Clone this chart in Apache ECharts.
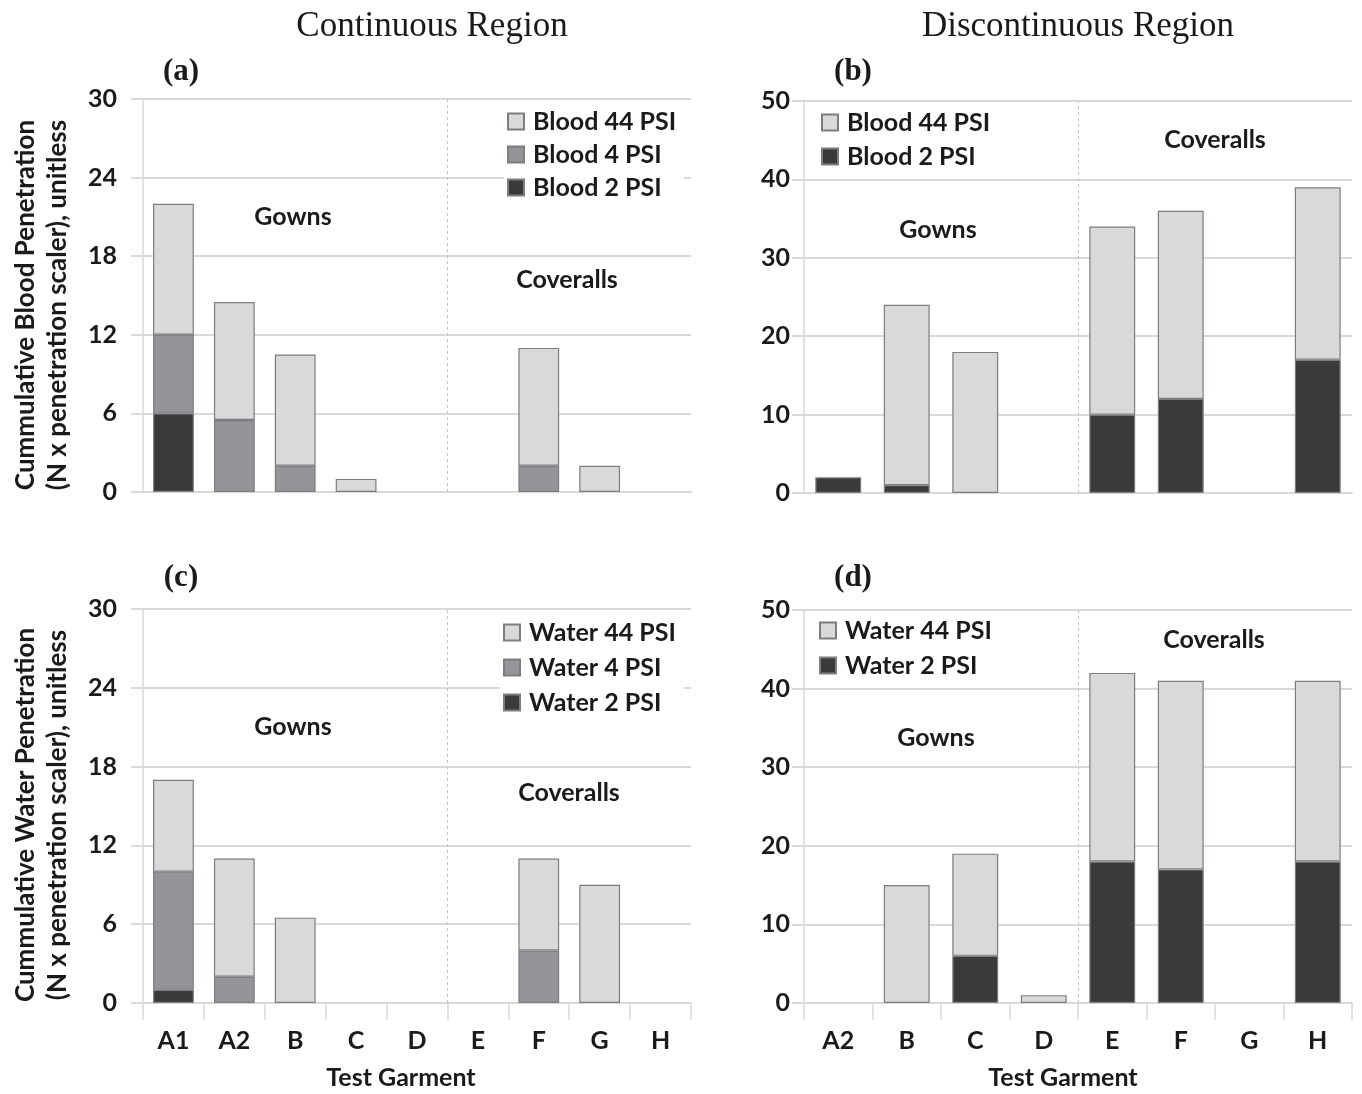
<!DOCTYPE html>
<html>
<head>
<meta charset="utf-8">
<script src="https://cdn.jsdelivr.net/npm/echarts@6/dist/echarts.min.js"></script>
<style>
html,body{margin:0;padding:0;background:#fff;}
#chart{width:1362px;height:1094px;}
</style>
</head>
<body>
<div id="chart"></div>
<script>
// ---------- data ----------
const categoriesContinuous = ['A1','A2','B','C','D','E','F','G','H'];
const categoriesDiscontinuous = ['A2','B','C','D','E','F','G','H'];
const separatorContinuous = 5;     // boundary between gowns (A1..D) and coveralls (E..H)
const separatorDiscontinuous = 4;  // boundary between gowns (A2..D) and coveralls (E..H)

const blood2Continuous  = [6, null, null, null, null, null, null, null, null];
const blood4Continuous  = [6, 5.5, 2, null, null, null, 2, null, null];
const blood44Continuous = [10, 9, 8.5, 1, null, null, 9, 2, null];

const blood2Discontinuous  = [2, 1, null, null, 10, 12, null, 17];
const blood44Discontinuous = [null, 23, 18, null, 24, 24, null, 22];

const water2Continuous  = [1, null, null, null, null, null, null, null, null];
const water4Continuous  = [9, 2, null, null, null, null, 4, null, null];
const water44Continuous = [7, 9, 6.5, null, null, null, 7, 9, null];

const water2Discontinuous  = [null, null, 6, null, 18, 17, null, 18];
const water44Discontinuous = [null, 15, 13, 1, 24, 24, null, 23];

const yMaxContinuous = 30, yIntervalContinuous = 6;
const yMaxDiscontinuous = 50, yIntervalDiscontinuous = 10;

// ---------- styles ----------
const C44 = '#d8d9db', C4 = '#939598', C2 = '#3a3a3c';
const BORDER = '#7d7d7f';
const GRID = '#d9d9d9';
const SANS = 'Lato';
const SERIF = 'Liberation Serif';
const FS = 25;

const grids = [
  {left:143, top:99,  width:548, height:393},
  {left:804, top:101, width:548, height:392},
  {left:143, top:609, width:548, height:394},
  {left:804, top:610, width:548, height:393}
];

function xCat(gi, cats, showLabels){
  return {
    type:'category', gridIndex:gi, data:cats,
    axisLine:{show:true, lineStyle:{color:GRID, width:2}},
    axisTick:{show:showLabels, length:17, lineStyle:{color:GRID, width:1.5}},
    axisLabel:{show:showLabels, color:'#1a1a1a', fontFamily:SANS, fontWeight:'bold', fontSize:FS, margin:25},
    splitLine:{show:false}
  };
}
function xSep(gi, n){
  return {type:'value', gridIndex:gi, min:0, max:n, show:false};
}
function yVal(gi, max, interval, margin){
  return {
    type:'value', gridIndex:gi, min:0, max:max, interval:interval,
    axisLine:{show:true, lineStyle:{color:GRID, width:1.5}},
    axisTick:{show:true, length:12, lineStyle:{color:GRID, width:2}},
    axisLabel:{color:'#1a1a1a', fontFamily:SANS, fontWeight:'bold', fontSize:FS, margin:margin},
    splitLine:{show:true, lineStyle:{color:GRID, width:2}}
  };
}
function bar(name, data, color, gi, stack){
  return {
    type:'bar', name:name, data:data, xAxisIndex:gi*2, yAxisIndex:gi, stack:stack,
    barCategoryGap:'33%',
    itemStyle:{color:color, borderColor:BORDER, borderWidth:1.2},
    emphasis:{disabled:true}, animation:false
  };
}
function sep(gi, value){
  return {
    type:'scatter', xAxisIndex:gi*2+1, yAxisIndex:gi, data:[[value,0]], symbolSize:0,
    silent:true, animation:false,
    markLine:{silent:true, symbol:'none', animation:false, label:{show:false},
      lineStyle:{color:'#c4c4c4', type:[3,3], width:1},
      data:[{xAxis:value}]}
  };
}
function legend(left, top, gap, names){
  return {
    left:left, top:top, orient:'vertical', data:names,
    icon:'rect', itemWidth:16, itemHeight:16, itemGap:gap,
    backgroundColor:'#fff', padding:[3,8,3,3],
    textStyle:{fontFamily:SANS, fontWeight:'bold', fontSize:FS, color:'#1a1a1a', padding:[0,0,0,4]},
    selectedMode:false
  };
}
function txt(x, y, text, opts){
  return Object.assign({type:'text', x:x, y:y, silent:true,
    style:Object.assign({text:text, fill:'#1a1a1a', align:'center', verticalAlign:'middle',
      font:'bold ' + FS + 'px ' + SANS}, opts||{})});
}

const option = {
  backgroundColor:'#fff',
  animation:false,
  grid: grids,
  xAxis:[
    xCat(0, categoriesContinuous, false), xSep(0, categoriesContinuous.length),
    xCat(1, categoriesDiscontinuous, false), xSep(1, categoriesDiscontinuous.length),
    xCat(2, categoriesContinuous, true), xSep(2, categoriesContinuous.length),
    xCat(3, categoriesDiscontinuous, true), xSep(3, categoriesDiscontinuous.length)
  ],
  yAxis:[
    yVal(0, yMaxContinuous, yIntervalContinuous, 26),
    yVal(1, yMaxDiscontinuous, yIntervalDiscontinuous, 14),
    yVal(2, yMaxContinuous, yIntervalContinuous, 26),
    yVal(3, yMaxDiscontinuous, yIntervalDiscontinuous, 14)
  ],
  legend:[
    legend(504, 106, 8, ['Blood 44 PSI','Blood 4 PSI','Blood 2 PSI']),
    legend(818, 107, 9, ['Blood 44 PSI','Blood 2 PSI']),
    legend(500, 617, 10, ['Water 44 PSI','Water 4 PSI','Water 2 PSI']),
    legend(816, 615, 10, ['Water 44 PSI','Water 2 PSI'])
  ],
  series:[
    bar('Blood 2 PSI', blood2Continuous, C2, 0, 'a'),
    bar('Blood 4 PSI', blood4Continuous, C4, 0, 'a'),
    bar('Blood 44 PSI', blood44Continuous, C44, 0, 'a'),
    sep(0, separatorContinuous),
    bar('Blood 2 PSI', blood2Discontinuous, C2, 1, 'b'),
    bar('Blood 44 PSI', blood44Discontinuous, C44, 1, 'b'),
    sep(1, separatorDiscontinuous),
    bar('Water 2 PSI', water2Continuous, C2, 2, 'c'),
    bar('Water 4 PSI', water4Continuous, C4, 2, 'c'),
    bar('Water 44 PSI', water44Continuous, C44, 2, 'c'),
    sep(2, separatorContinuous),
    bar('Water 2 PSI', water2Discontinuous, C2, 3, 'd'),
    bar('Water 44 PSI', water44Discontinuous, C44, 3, 'd'),
    sep(3, separatorDiscontinuous)
  ],
  graphic:[
    txt(432, 27, 'Continuous Region', {font:'35px ' + SERIF}),
    txt(1078, 27, 'Discontinuous Region', {font:'35px ' + SERIF}),
    txt(181, 72, '(a)', {font:'bold 31px ' + SERIF}),
    txt(853, 72, '(b)', {font:'bold 31px ' + SERIF}),
    txt(181, 578, '(c)', {font:'bold 31px ' + SERIF}),
    txt(853, 578, '(d)', {font:'bold 31px ' + SERIF}),
    txt(293, 217, 'Gowns'),
    txt(567, 280, 'Coveralls'),
    txt(938, 230, 'Gowns'),
    txt(1215, 140, 'Coveralls'),
    txt(293, 727, 'Gowns'),
    txt(569, 793, 'Coveralls'),
    txt(936, 738, 'Gowns'),
    txt(1214, 640, 'Coveralls'),
    txt(401, 1078, 'Test Garment'),
    txt(1063, 1078, 'Test Garment'),
    txt(26, 305, 'Cummulative Blood Penetration', {font:'bold 26px ' + SANS}),
    txt(58, 305, '(N x penetration scaler), unitless', {font:'bold 26px ' + SANS}),
    txt(26, 815, 'Cummulative Water Penetration', {font:'bold 26px ' + SANS}),
    txt(58, 815, '(N x penetration scaler), unitless', {font:'bold 26px ' + SANS})
  ]
};
// rotate the y-axis titles
option.graphic.slice(-4).forEach(g => { g.rotation = Math.PI/2; });

const chart = echarts.init(document.getElementById('chart'), null, {renderer:'canvas'});
chart.setOption(option);
</script>
</body>
</html>
